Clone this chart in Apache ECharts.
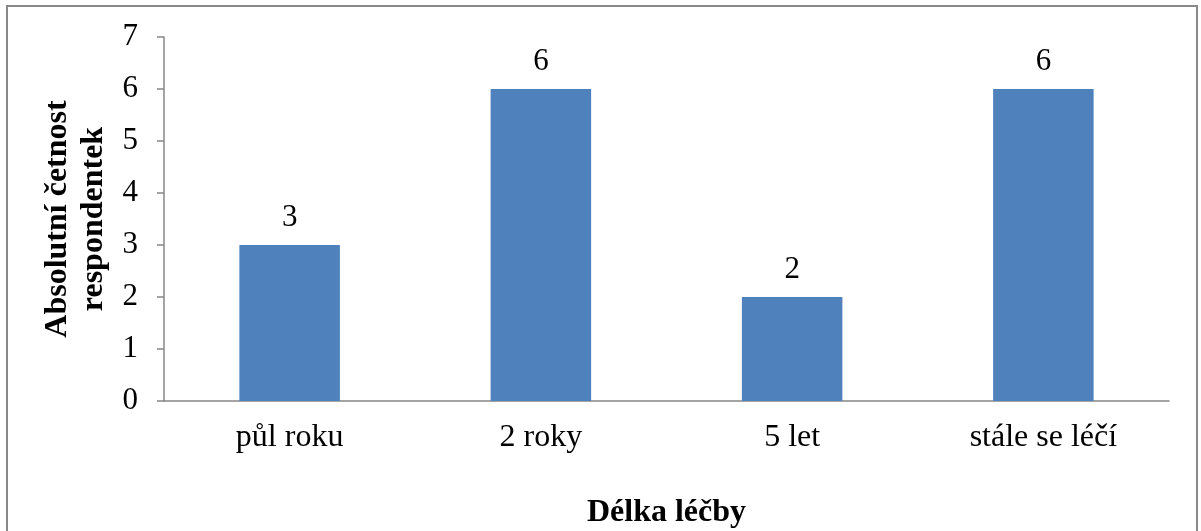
<!DOCTYPE html>
<html>
<head>
<meta charset="utf-8">
<script src="https://cdn.jsdelivr.net/npm/echarts@6/dist/echarts.min.js"></script>
<style>
  html, body { margin: 0; padding: 0; background: #fff; }
  #chart { width: 1201px; height: 531px; }
</style>
</head>
<body>
<div id="chart"></div>
<script>
// Treatment duration vs. number of respondents
const categories = ['půl roku', '2 roky', '5 let', 'stále se léčí'];
const counts = [3, 6, 2, 6];
const yTicks = [0, 1, 2, 3, 4, 5, 6, 7];

const xTitle = 'Délka léčby';
const yTitle = 'Absolutní četnost\nrespondentek';

const serif = "'Liberation Serif', 'Times New Roman', serif";
const axisGray = '#878787';

const chart = echarts.init(document.getElementById('chart'), null, { renderer: 'canvas' });

chart.setOption({
  animation: false,
  backgroundColor: '#ffffff',
  graphic: [{
    type: 'rect',
    shape: { x: 7, y: 6, width: 1190, height: 560 },
    style: { fill: 'none', stroke: '#898989', lineWidth: 2 },
    silent: true
  }],
  grid: { left: 164, top: 37, right: 32, bottom: 130, outerBoundsMode: 'none', containLabel: false },
  xAxis: {
    type: 'category',
    data: categories,
    name: xTitle,
    nameLocation: 'middle',
    nameGap: 96,
    nameTextStyle: { fontFamily: serif, fontSize: 32, fontWeight: 'bold', color: '#000' },
    axisLine: { lineStyle: { color: axisGray, width: 1.5 } },
    axisTick: { length: 8, lineStyle: { color: axisGray, width: 1.5 } },
    axisLabel: { fontFamily: serif, fontSize: 32, color: '#000', margin: 21 },
    splitLine: { show: false }
  },
  yAxis: {
    type: 'value',
    min: yTicks[0],
    max: yTicks[yTicks.length - 1],
    interval: 1,
    name: yTitle,
    nameLocation: 'middle',
    nameGap: 50,
    nameRotate: 90,
    nameTextStyle: { fontFamily: serif, fontSize: 32, fontWeight: 'bold', color: '#000', lineHeight: 36 },
    axisLine: { show: true, lineStyle: { color: axisGray, width: 1.5 } },
    axisTick: { show: true, length: 7, lineStyle: { color: axisGray, width: 1.5 } },
    axisLabel: { fontFamily: serif, fontSize: 31, color: '#000', margin: 26 },
    splitLine: { show: false }
  },
  series: [{
    type: 'bar',
    data: counts,
    barWidth: '40%',
    itemStyle: { color: '#4F81BD' },
    label: {
      show: true,
      position: 'top',
      distance: 12,
      fontFamily: serif,
      fontSize: 31,
      color: '#000'
    }
  }]
});
</script>
</body>
</html>
